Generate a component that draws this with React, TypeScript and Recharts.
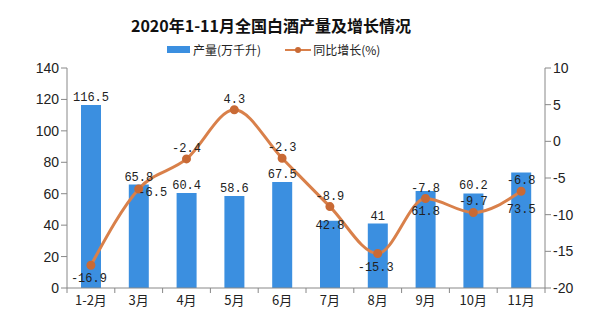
import { ComposedChart, Bar, Line, XAxis, YAxis, LabelList } from 'recharts'

const months = ['1-2月', '3月', '4月', '5月', '6月', '7月', '8月', '9月', '10月', '11月']
const output = [116.5, 65.8, 60.4, 58.6, 67.5, 42.8, 41, 61.8, 60.2, 73.5]
const growth = [-16.9, -6.5, -2.4, 4.3, -2.3, -8.9, -15.3, -7.8, -9.7, -6.8]
const leftTicks = [0, 20, 40, 60, 80, 100, 120, 140]
const rightTicks = [-20, -15, -10, -5, 0, 5, 10]

const data = months.map((m, i) => ({ month: m, output: output[i], growth: growth[i] }))

const BAR = '#3b8fe0'
const LINE = '#d9804a'
const MONO = '"Liberation Mono", "DejaVu Sans Mono", monospace'
const CJK = '"Noto Sans CJK SC", sans-serif'

// bars whose value label is pushed down into the bar (line passes over them)
const insideOffset: Record<number, number> = { 5: 8, 7: 24, 9: 40 }

const barLabel = (props: any) => {
  const { x, y, width, value, index } = props
  const dy = insideOffset[index] !== undefined ? insideOffset[index] : -4
  return (
    <text x={x + width / 2} y={y + dy} textAnchor="middle" fontSize={12} fontFamily={MONO} fill="#222">
      {value}
    </text>
  )
}

const lineLabel = (props: any) => {
  const { x, y, value } = props
  if (value < -15) {
    return (
      <text x={x - 2} y={y + 17} textAnchor="middle" fontSize={12} fontFamily={MONO} fill="#222">{value}</text>
    )
  }
  if (value === -6.5) {
    return (
      <text x={x + 14} y={y + 7} textAnchor="middle" fontSize={12} fontFamily={MONO} fill="#222">{value}</text>
    )
  }
  return (
    <text x={x} y={y - 7} textAnchor="middle" fontSize={12} fontFamily={MONO} fill="#222">{value}</text>
  )
}

// category label plus small tick marks on the category boundaries
const MonthTick = (props: any) => {
  const { x, y, payload, index, width, visibleTicksCount } = props
  const band = width && visibleTicksCount ? width / visibleTicksCount : 47.8
  const top = y - 8
  return (
    <g>
      <line x1={x - band / 2} x2={x - band / 2} y1={top} y2={top + 5} stroke="#888" />
      {index === visibleTicksCount - 1 && (
        <line x1={x + band / 2} x2={x + band / 2} y1={top} y2={top + 5} stroke="#888" />
      )}
      <text x={x} y={y} dy="0.71em" textAnchor="middle" fontSize={13} fontFamily={CJK} fill="#222">
        {payload.value}
      </text>
    </g>
  )
}

export default function App() {
  return (
    <div style={{ position: 'absolute', left: 0, top: 0, width: 602, height: 314, background: '#fff' }}>
      <div style={{ position: 'absolute', left: 0, top: 13, width: 542, textAlign: 'center', fontFamily: CJK, fontWeight: 700, fontSize: 16, color: '#111' }}>
        2020年1-11月全国白酒产量及增长情况
      </div>
      <div style={{ position: 'absolute', top: 41, left: 167, display: 'flex', alignItems: 'center', fontFamily: CJK, fontSize: 12, color: '#222' }}>
        <span style={{ display: 'inline-block', width: 23, height: 7, background: BAR, marginRight: 3 }} />
        <span>产量(万千升)</span>
        <span style={{ display: 'inline-block', width: 26, height: 10, marginLeft: 24, marginRight: 2, position: 'relative' }}>
          <span style={{ position: 'absolute', left: 0, top: 4, width: 26, height: 2, background: LINE }} />
          <span style={{ position: 'absolute', left: 10, top: 2, width: 6, height: 6, borderRadius: 3, background: '#c96a35' }} />
        </span>
        <span>同比增长(%)</span>
      </div>
      <ComposedChart width={602} height={314} data={data} margin={{ top: 68, right: 17, left: 7, bottom: 0 }}>
        <XAxis
          dataKey="month"
          height={26}
          tickLine={{ stroke: 'none' }}
          tickSize={6}
          tickMargin={2}
          axisLine={{ stroke: '#888' }}
          tick={<MonthTick />}
          interval={0}
        />
        <YAxis
          yAxisId="left"
          width={60}
          domain={[0, 140]}
          ticks={leftTicks}
          axisLine={{ stroke: '#888' }}
          tickLine={{ stroke: '#888' }}
          tick={{ fontSize: 14, fontFamily: '"Liberation Sans", Arial, sans-serif', fill: '#222' }}
        />
        <YAxis
          yAxisId="right"
          orientation="right"
          width={40}
          domain={[-20, 10]}
          ticks={rightTicks}
          axisLine={{ stroke: '#888' }}
          tickLine={{ stroke: '#888' }}
          tick={{ fontSize: 14, fontFamily: '"Liberation Sans", Arial, sans-serif', fill: '#222' }}
        />
        <Bar yAxisId="left" dataKey="output" fill={BAR} barSize={20} isAnimationActive={false}>
          <LabelList dataKey="output" content={barLabel} />
        </Bar>
        <Line
          yAxisId="right"
          type="monotone"
          dataKey="growth"
          stroke={LINE}
          strokeWidth={3}
          dot={{ r: 3, fill: '#c96a35', stroke: '#c96a35' }}
          isAnimationActive={false}
        >
          <LabelList dataKey="growth" content={lineLabel} />
        </Line>
      </ComposedChart>
    </div>
  )
}
